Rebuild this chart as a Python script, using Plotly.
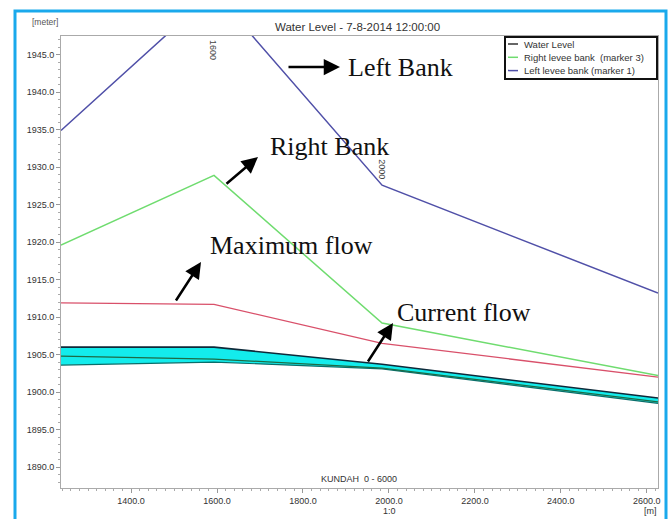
import plotly.graph_objects as go

# ---- data ----
chainage = [1237, 1593, 1984, 2626]
left_bank = [1934.9, 1953.4, 1927.6, 1913.2]
right_bank = [1919.6, 1928.9, 1909.2, 1902.2]
max_flow = [1911.9, 1911.7, 1906.5, 1902.0]
water_top = [1906.0, 1906.0, 1903.7, 1899.2]
water_mid = [1904.8, 1904.4, 1903.2, 1898.7]
water_bottom = [1903.6, 1904.0, 1903.1, 1898.5]

x_range = [1237, 2626]
y_range = [1887.2, 1947.5]
marker_chainages = ["1600", "2000"]
marker_positions = [1593, 1984]
marker_levels = [1947.2, 1931.3]

legend_names = ["Water Level", "Right levee bank \u00a0(marker 3)", "Left levee bank (marker 1)"]
legend_colors = ["#333333", "#6fdc6f", "#5050a8"]

fig = go.Figure()

fig.add_trace(go.Scatter(x=chainage, y=water_bottom, mode="lines",
                         line=dict(color="#0a6e6a", width=1.2)))
fig.add_trace(go.Scatter(x=chainage, y=water_top, mode="lines", fill="tonexty",
                         fillcolor="#13ecec", line=dict(color="#0e2a3a", width=1.6)))
fig.add_trace(go.Scatter(x=chainage, y=water_mid, mode="lines",
                         line=dict(color="#1d6b45", width=1.2)))
fig.add_trace(go.Scatter(x=chainage, y=max_flow, mode="lines",
                         line=dict(color="#d9506a", width=1.3)))
fig.add_trace(go.Scatter(x=chainage, y=right_bank, mode="lines", name=legend_names[1],
                         line=dict(color=legend_colors[1], width=1.5)))
fig.add_trace(go.Scatter(x=chainage, y=left_bank, mode="lines", name=legend_names[2],
                         line=dict(color=legend_colors[2], width=1.5)))

# vertical chainage markers
for c, pos, lv in zip(marker_chainages, marker_positions, marker_levels):
    fig.add_annotation(x=pos - 2, y=lv, text=c, showarrow=False, textangle=90,
                       font=dict(family="Arial, Liberation Sans", size=9, color="#444"),
                       xanchor="center", yanchor="top")

W, H = 670, 519
L, R, T, B = 61, 12, 36, 31
pw, ph = W - L - R, H - T - B


def px(x):
    return (x - L) / pw


def py(y):
    return (H - B - y) / ph


serif = dict(family="Liberation Serif, Times New Roman, serif", size=26, color="#111")

arrows = [
    # head (x,y), tail offset
    ((340, 67), (-53, 0)),
    ((258, 157), (-33, 28)),
    ((201, 262), (-26, 40)),
    ((393, 323), (-26, 40)),
]
for (hx, hy), (ax, ay) in arrows:
    fig.add_annotation(xref="paper", yref="paper", x=px(hx), y=py(hy), text="",
                       showarrow=True, ax=ax, ay=ay, arrowhead=2, arrowsize=1.3,
                       arrowwidth=2.5, arrowcolor="#000")

labels = [("Left Bank", 346, 67), ("Right Bank", 268, 146),
          ("Maximum flow", 208, 246), ("Current flow", 395, 312)]
for t, lx, ly in labels:
    fig.add_annotation(xref="paper", yref="paper", x=px(lx), y=py(ly), text=t,
                       showarrow=False, xanchor="left", yanchor="middle", font=serif)

small = dict(family="Arial, Liberation Sans", size=9, color="#333")
fig.add_annotation(xref="paper", yref="paper", x=px(357), y=py(27),
                   text="Water Level - 7-8-2014 12:00:00", showarrow=False,
                   font=dict(family="Arial, Liberation Sans", size=11.5, color="#333"),
                   xanchor="center", yanchor="middle")
fig.add_annotation(xref="paper", yref="paper", x=px(45), y=py(22), text="[meter]",
                   showarrow=False, font=dict(family="Arial, Liberation Sans", size=8.5, color="#555"),
                   xanchor="center", yanchor="middle")
fig.add_annotation(xref="paper", yref="paper", x=px(359), y=py(479), text="KUNDAH  0 - 6000",
                   showarrow=False, font=small, xanchor="center", yanchor="middle")
fig.add_annotation(xref="paper", yref="paper", x=px(389), y=py(511), text="1:0",
                   showarrow=False, font=small, xanchor="center", yanchor="middle")
fig.add_annotation(xref="paper", yref="paper", x=px(650), y=py(511), text="[m]",
                   showarrow=False, font=small, xanchor="center", yanchor="middle")

# custom legend box (compact, like the reference)
fig.add_shape(type="rect", xref="paper", yref="paper",
              x0=px(505), x1=px(657), y0=py(37), y1=py(79),
              line=dict(color="#111", width=2), fillcolor="white", layer="above")
for i, (nm, col) in enumerate(zip(legend_names, legend_colors)):
    ry = 44 + 13.3 * i
    fig.add_shape(type="line", xref="paper", yref="paper",
                  x0=px(508), x1=px(518), y0=py(ry), y1=py(ry),
                  line=dict(color=col, width=1.5), layer="above")
    fig.add_annotation(xref="paper", yref="paper", x=px(522), y=py(ry), text=nm,
                       showarrow=False, xanchor="left", yanchor="middle",
                       font=dict(family="Arial, Liberation Sans", size=9.5, color="#333"))

# outer blue frame
fig.add_shape(type="rect", xref="paper", yref="paper",
              x0=px(15), x1=px(666), y0=py(11), y1=py(540),
              line=dict(color="#1aa9ec", width=3), layer="above")

axis_common = dict(showgrid=False, zeroline=False, showline=True, linecolor="#aaaaaa",
                   linewidth=1, mirror=True, ticks="outside", ticklen=4,
                   tickcolor="#999", tickfont=small, tickformat=".1f", automargin=False)

fig.update_layout(
    width=W, height=H,
    margin=dict(l=L, r=R, t=T, b=B, autoexpand=False),
    paper_bgcolor="white", plot_bgcolor="white",
    xaxis=dict(range=x_range, dtick=200, tick0=0,
               minor=dict(dtick=20, ticks="outside", ticklen=2, tickcolor="#aaa"),
               **axis_common),
    yaxis=dict(range=y_range, dtick=5, tick0=0,
               minor=dict(dtick=1, ticks="outside", ticklen=2, tickcolor="#aaa"),
               **axis_common),
    showlegend=False,
)

fig.write_html("out.html", config={"displayModeBar": False},
               post_script="document.body.style.margin='0';document.body.style.overflow='hidden';")
